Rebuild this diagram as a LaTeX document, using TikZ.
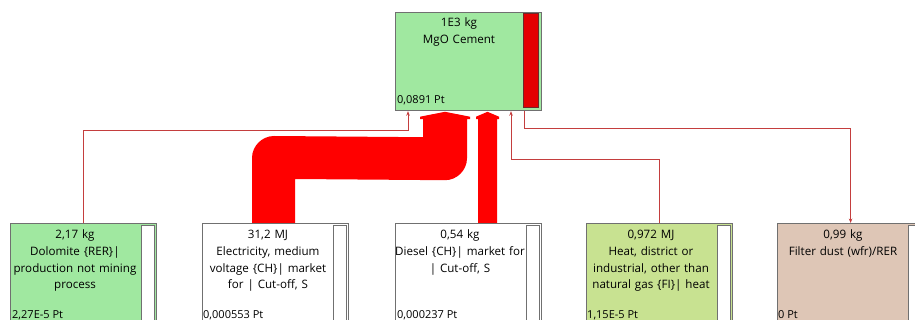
\documentclass[tikz,border=0pt]{standalone}
\usepackage{fontspec}
\setmainfont{Open Sans}
\usetikzlibrary{arrows.meta,calc}
\definecolor{boxgreen}{RGB}{160,232,160}
\definecolor{boxheat}{RGB}{200,226,145}
\definecolor{boxtan}{RGB}{222,198,182}
\definecolor{boxborder}{RGB}{112,112,112}
\definecolor{thinred}{RGB}{196,62,62}
\definecolor{flowred}{RGB}{255,0,0}
\definecolor{barred}{RGB}{228,0,0}
\definecolor{barborder}{RGB}{110,40,40}
\begin{document}
\begin{tikzpicture}[x=1pt,y=-1pt,
  box/.style={draw=boxborder, line width=1.2pt, rectangle, inner sep=0pt,
    minimum width=146pt, anchor=north west},
  topbox/.style={box, minimum height=98pt},
  botbox/.style={box, minimum height=110pt},
  whitebar/.style={draw=boxborder, line width=1pt, fill=white},
  redbar/.style={draw=barborder, line width=1pt, fill=barred},
  lbl/.style={anchor=north, inner sep=0pt, align=center, text width=150pt,
    font=\fontsize{11.6}{16.7}\selectfont},
  val/.style={anchor=base west, inner sep=0pt, font=\fontsize{11}{16.7}\selectfont},
  conn/.style={draw=thinred, line width=1pt},
  tip/.style={-{Stealth[length=4.5pt,width=3.5pt]}},
  flow/.style={fill=flowred, draw=none}
]
\useasboundingbox (0,0) rectangle (915,320);
\clip (0,0) rectangle (915,320);

% boxes
\node[topbox, fill=boxgreen] (top) at (395,12) {};
\node[botbox, fill=boxgreen] (dolo) at (10,223) {};
\node[botbox, fill=white] (elec) at (202,223) {};
\node[botbox, fill=white] (dies) at (395,223) {};
\node[botbox, fill=boxheat] (heat) at (586,223) {};
\node[botbox, fill=boxtan] (filt) at (777,223) {};

% bars
\draw[redbar] ($(top.north west)+(128,2)$) rectangle ($(top.north west)+(143,96)$);
\foreach \b in {dolo,elec,dies,heat,filt}{
  \draw[whitebar] ($(\b.north west)+(131,3)$) rectangle ($(\b.north west)+(144,112)$);
}

% texts
\node[lbl] (topT) at ($(top.north west)+(64,3)$) {\strut 1E3 kg\\MgO Cement};
\node[val] (topV) at ($(top.north west)+(2,92)$) {0,0891 Pt};

\node[lbl] (doloT) at ($(dolo.north west)+(65,4)$) {\strut 2,17 kg\\Dolomite \{RER\}|\\production not mining\\process};
\node[val] (doloV) at ($(dolo.north west)+(2,95)$) {2,27E-5 Pt};

\node[lbl] (elecT) at ($(elec.north west)+(66,4)$) {\strut 31,2 MJ\\Electricity, medium\\voltage \{CH\}| market\\for | Cut-off, S};
\node[val] (elecV) at ($(elec.north west)+(1,95)$) {0,000553 Pt};

\node[lbl] (diesT) at ($(dies.north west)+(65,4)$) {\strut 0,54 kg\\Diesel \{CH\}| market for\\| Cut-off, S};
\node[val] (diesV) at ($(dies.north west)+(2,95)$) {0,000237 Pt};

\node[lbl] (heatT) at ($(heat.north west)+(65,4)$) {\strut 0,972 MJ\\Heat, district or\\industrial, other than\\natural gas \{FI\}| heat};
\node[val] (heatV) at ($(heat.north west)+(1,95)$) {1,15E-5 Pt};

\node[lbl] (filtT) at ($(filt.north west)+(66,4)$) {\strut 0,99 kg\\Filter dust (wfr)/RER};
\node[val] (filtV) at ($(filt.north west)+(1,95)$) {0 Pt};

% anchor coordinates
\coordinate (tS) at (top.south west);
\coordinate (eS) at (elec.north west);
\coordinate (gS) at (dies.north west);

% thick flows
\fill[flow] ($(eS)+(50,0)$) -- ($(eS)+(50,-65)$)
  .. controls ($(eS)+(50,-77)$) and ($(eS)+(60,-87)$) .. ($(eS)+(72,-87)$)
  -- ($(tS)+(28,26)$) -- ($(tS)+(28,8)$) -- ($(tS)+(25,8)$)
  -- ($(tS)+(25,5.5)$) -- ($(tS)+(50,0.6)$) -- ($(tS)+(75,5.5)$)
  -- ($(tS)+(75,8)$) -- ($(tS)+(72,8)$) -- ($(tS)+(72,47)$)
  .. controls ($(tS)+(72,59)$) and ($(tS)+(62,69)$) .. ($(tS)+(50,69)$)
  -- ($(eS)+(93,-44)$) -- ($(eS)+(93,0)$) -- cycle;

\fill[flow] ($(gS)+(83,0)$) -- ($(tS)+(83,8)$) -- ($(tS)+(81,8)$)
  -- ($(tS)+(81,5.5)$) -- ($(tS)+(92.5,0.6)$) -- ($(tS)+(104,5.5)$)
  -- ($(tS)+(104,8)$) -- ($(tS)+(102,8)$) -- ($(gS)+(102,0)$) -- cycle;

% thin connectors
\draw[conn,tip] (dolo.north) |- ($(tS)+(13,19)$) -- ($(tS)+(13,0)$);
\draw[conn,tip] (heat.north) |- ($(tS)+(116,48)$) -- ($(tS)+(116,0)$);
\draw[conn,tip] ($(tS)+(129,0)$) |- ($(filt.north)+(0,-94)$) -- (filt.north);
\end{tikzpicture}
\end{document}
